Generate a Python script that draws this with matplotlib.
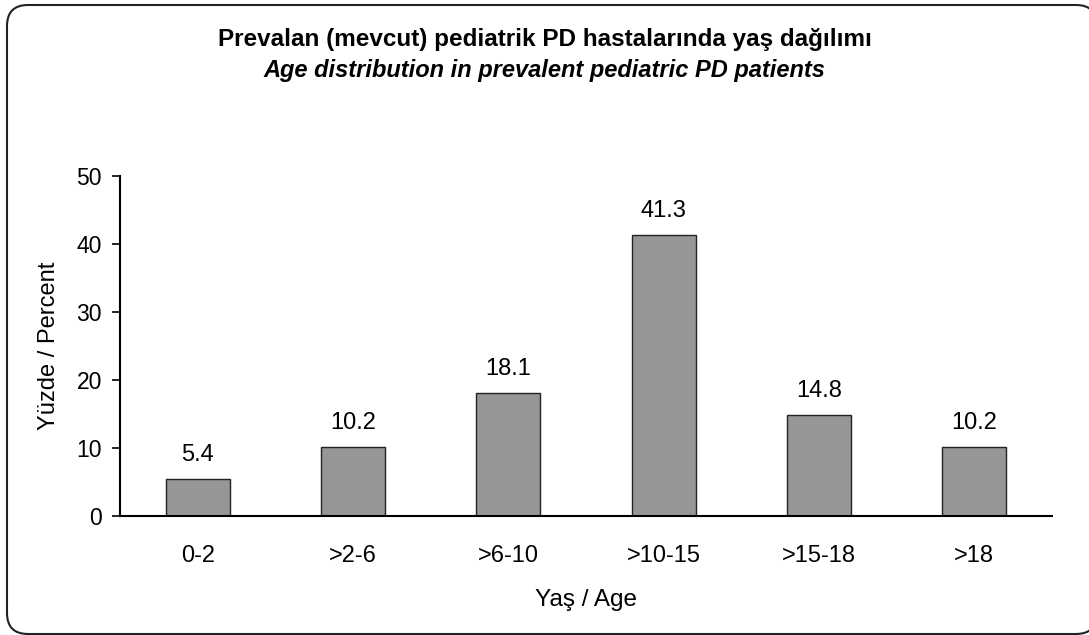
import matplotlib
matplotlib.use("Agg")
import matplotlib.pyplot as plt
from matplotlib.patches import FancyBboxPatch

plt.rcParams['font.family'] = ['Liberation Sans', 'DejaVu Sans']

categories = ["0-2", ">2-6", ">6-10", ">10-15", ">15-18", ">18"]
percent = [5.4, 10.2, 18.1, 41.3, 14.8, 10.2]
y_ticks = [0, 10, 20, 30, 40, 50]

title_tr = "Prevalan (mevcut) pediatrik PD hastalarında yaş dağılımı"
title_en = "Age distribution in prevalent pediatric PD patients"

W, H = 1089, 635
fig = plt.figure(figsize=(W / 100, H / 100), dpi=100)

# background layer in pixel units holding the rounded outer frame
bg = fig.add_axes([0, 0, 1, 1], zorder=-1)
bg.set_xlim(0, W)
bg.set_ylim(H, 0)
bg.axis("off")
frame = FancyBboxPatch((7, 5), 1097 - 7, 634 - 5,
                       boxstyle="round,pad=0,rounding_size=21",
                       facecolor="white", edgecolor="#222222", linewidth=1.5)
bg.add_patch(frame)

ax = fig.add_axes([120 / W, 1 - 516 / H, (1052 - 120) / W, (516 - 176) / H])
ax.set_facecolor("none")

x = range(len(categories))
bars = ax.bar(x, percent, width=0.41, color="#969696", edgecolor="#222222", linewidth=1.0)
for xi, v in zip(x, percent):
    ax.annotate(f"{v}", (xi, v), xytext=(0, 13), textcoords="offset points",
                ha="center", va="baseline", fontsize=17)

ax.set_xlim(-0.5, len(categories) - 0.5)
ax.set_ylim(0, 50)
ax.set_yticks(y_ticks)
ax.set_xticks(list(x))
ax.set_xticklabels(categories)
ax.tick_params(axis="y", length=6, width=1.2, labelsize=16.5, pad=7)
ax.tick_params(axis="x", length=0, labelsize=17, pad=21)
for s in ["top", "right"]:
    ax.spines[s].set_visible(False)
ax.spines["left"].set_linewidth(1.5)
ax.spines["bottom"].set_linewidth(1.5)

ax.set_xlabel("Yaş / Age", fontsize=17.5, labelpad=16)
ax.set_ylabel("Yüzde / Percent", fontsize=17, labelpad=12)

fig.text(0.5, 1 - 46 / H, title_tr, ha="center", va="baseline", fontsize=17.5, fontweight="bold")
fig.text(0.5, 1 - 77 / H, title_en, ha="center", va="baseline", fontsize=17, fontweight="bold", style="italic")

fig.savefig("out.png", dpi=100)
